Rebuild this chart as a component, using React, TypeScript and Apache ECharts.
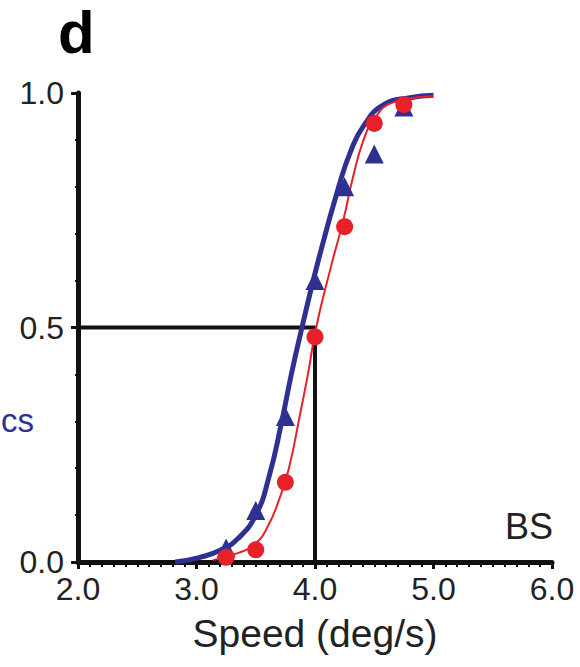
import React, { useEffect, useRef } from "react";
import * as echarts from "echarts";

// Data
const blueTriangles: [number, number][] = [
  [3.25, 0.03], [3.5, 0.11], [3.75, 0.31], [4.0, 0.6], [4.25, 0.8], [4.5, 0.87], [4.75, 0.97],
];
const redCircles: [number, number][] = [
  [3.25, 0.01], [3.5, 0.026], [3.75, 0.17], [4.0, 0.48], [4.25, 0.715], [4.5, 0.935], [4.75, 0.975],
];
const blueCurve: [number, number][] = [
  [2.82, 0], [3.03, 0.01], [3.2, 0.025], [3.35, 0.05], [3.5, 0.1], [3.61, 0.18], [3.72, 0.3],
  [3.8, 0.4], [3.89, 0.5], [4.03, 0.645], [4.2, 0.8], [4.3, 0.875], [4.41, 0.93], [4.58, 0.975],
  [4.8, 0.99], [5.0, 0.995],
];
const redCurve: [number, number][] = [
  [3.14, 0.004], [3.36, 0.02], [3.5, 0.04], [3.6, 0.075], [3.7, 0.135], [3.78, 0.2],
  [3.87, 0.31], [3.94, 0.4], [4.01, 0.5], [4.13, 0.625], [4.24, 0.73], [4.32, 0.82],
  [4.41, 0.9], [4.5, 0.945], [4.66, 0.98], [5.0, 0.993],
];
const thresholdLines: [number, number][] = [[2.0, 0.5], [4.0, 0.5], [4.0, 0.0]];
const xTicks = { min: 2, max: 6, step: 1 };
const yTicks = { min: 0, max: 1, step: 0.5 };

const BLUE = "#2e3192";
const RED = "#e8202a";
const INK = "#111111";
const FONT = "'Liberation Sans', Arial, sans-serif";

export default function App() {
  const ref = useRef<HTMLDivElement>(null);
  useEffect(() => {
    if (!ref.current) return;
    const chart = echarts.init(ref.current, null, { renderer: "svg" });
    chart.setOption({
      animation: false,
      backgroundColor: "#ffffff",
      grid: { left: 78, right: 28, top: 93, bottom: 105, containLabel: false },
      xAxis: {
        type: "value",
        min: xTicks.min,
        max: xTicks.max,
        interval: xTicks.step,
        name: "Speed (deg/s)",
        nameLocation: "middle",
        nameGap: 52,
        nameTextStyle: { fontSize: 39, color: "#222", fontFamily: FONT },
        axisLine: { show: true, onZero: false, lineStyle: { color: INK, width: 5 } },
        axisTick: { show: true, inside: false, length: 7, lineStyle: { color: INK, width: 3 } },
        minorTick: { show: true, splitNumber: 10, length: 5, lineStyle: { color: INK, width: 2 } },
        splitLine: { show: false },
        axisLabel: {
          fontSize: 32,
          color: "#222",
          fontFamily: FONT,
          margin: 11,
          formatter: (v: number) => v.toFixed(1),
        },
      },
      yAxis: {
        type: "value",
        min: yTicks.min,
        max: yTicks.max,
        interval: yTicks.step,
        axisLine: { show: true, onZero: false, lineStyle: { color: INK, width: 5 } },
        axisTick: { show: true, inside: false, length: 7, lineStyle: { color: INK, width: 3 } },
        minorTick: { show: true, splitNumber: 5, length: 3, lineStyle: { color: INK, width: 2 } },
        splitLine: { show: false },
        axisLabel: {
          fontSize: 32,
          color: "#222",
          fontFamily: FONT,
          margin: 14,
          formatter: (v: number) => v.toFixed(1),
        },
      },
      series: [
        {
          type: "line",
          data: thresholdLines,
          symbol: "none",
          lineStyle: { color: INK, width: 4 },
          z: 1,
        },
        {
          type: "line",
          data: blueCurve,
          smooth: 0.5,
          symbol: "none",
          lineStyle: { color: BLUE, width: 5 },
          z: 2,
        },
        {
          type: "line",
          data: redCurve,
          smooth: 0.5,
          symbol: "none",
          lineStyle: { color: RED, width: 2 },
          z: 3,
        },
        {
          type: "scatter",
          data: blueTriangles,
          symbol: "triangle",
          symbolSize: 19,
          itemStyle: { color: BLUE, opacity: 1 },
          z: 4,
        },
        {
          type: "scatter",
          data: redCircles,
          symbol: "circle",
          symbolSize: 17,
          itemStyle: { color: RED, opacity: 1 },
          z: 5,
        },
      ],
      graphic: [
        {
          type: "text",
          left: 58,
          top: 2,
          style: { text: "d", fontSize: 60, fontWeight: "bold", fill: "#000", fontFamily: FONT },
        },
        {
          type: "text",
          x: 1,
          y: 420,
          style: {
            text: "cs",
            fontSize: 33,
            fill: BLUE,
            fontFamily: FONT,
            align: "left",
            verticalAlign: "middle",
          },
        },
        {
          type: "text",
          x: 553,
          y: 526,
          style: {
            text: "BS",
            fontSize: 36,
            fill: "#222",
            fontFamily: FONT,
            align: "right",
            verticalAlign: "middle",
          },
        },
      ],
    });
    return () => chart.dispose();
  }, []);
  return (
    <div
      ref={ref}
      style={{ position: "fixed", left: 0, top: 0, width: 580, height: 667, background: "#fff" }}
    />
  );
}
